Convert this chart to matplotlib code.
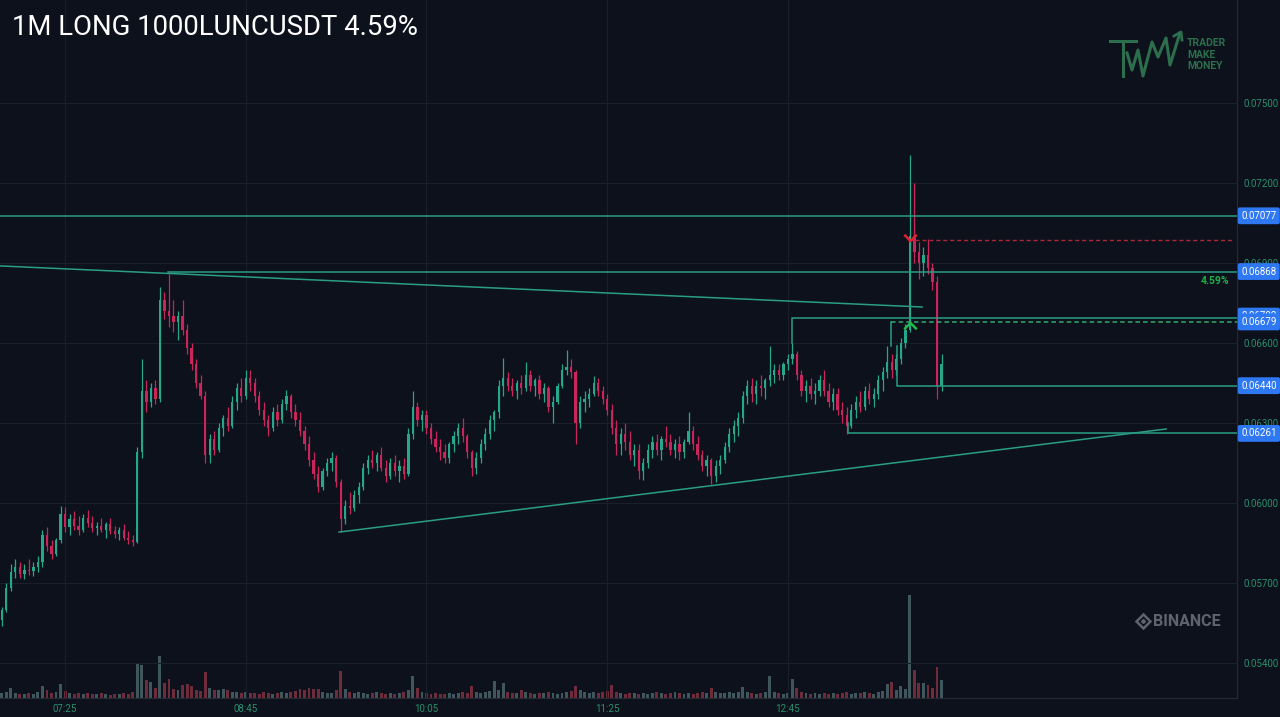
import numpy as np
import matplotlib.pyplot as plt
from matplotlib.path import Path
from matplotlib.transforms import blended_transform_factory

plt.rcParams['font.family'] = ['Roboto', 'DejaVu Sans']

# ---- data: 2-minute candles, prices in units of 0.00001 ----
opens = [5560, 5600, 5680, 5740, 5760, 5735, 5750, 5745, 5760, 5780,
         5880, 5840, 5810, 5860, 5960, 5910, 5940, 5915, 5900, 5945,
         5925, 5905, 5915, 5900, 5920, 5895, 5885, 5900, 5870, 5860,
         5855, 6190, 6420, 6380, 6430, 6390, 6760, 6720, 6700, 6680,
         6700, 6650, 6580, 6520, 6450, 6400, 6180, 6240, 6200, 6280,
         6320, 6290, 6380, 6430, 6400, 6470, 6450, 6400, 6350, 6310,
         6280, 6340, 6310, 6370, 6400, 6340, 6310, 6270, 6220, 6160,
         6110, 6060, 6120, 6150, 6170, 6080, 5940, 5990, 5980, 6030,
         6060, 6130, 6160, 6150, 6180, 6130, 6100, 6150, 6120, 6140,
         6110, 6260, 6360, 6310, 6330, 6280, 6240, 6210, 6190, 6170,
         6220, 6250, 6280, 6250, 6190, 6130, 6170, 6220, 6260, 6310,
         6340, 6440, 6470, 6440, 6420, 6450, 6430, 6480, 6440, 6460,
         6410, 6430, 6360, 6380, 6440, 6500, 6510, 6490, 6300, 6380,
         6390, 6410, 6450, 6420, 6390, 6350, 6280, 6220, 6260, 6230,
         6180, 6200, 6120, 6150, 6200, 6230, 6200, 6240, 6230, 6200,
         6220, 6190, 6230, 6270, 6220, 6180, 6140, 6160, 6100, 6140,
         6160, 6210, 6260, 6290, 6320, 6400, 6440, 6410, 6440, 6430,
         6460, 6480, 6500, 6480, 6520, 6540, 6560, 6480, 6420, 6440,
         6410, 6420, 6460, 6420, 6380, 6410, 6350, 6330, 6290, 6350,
         6380, 6360, 6420, 6390, 6410, 6460, 6490, 6530, 6500, 6540,
         6600, 6650, 7000, 6940, 6900, 6930, 6880, 6830, 6440]
highs = [5610, 5700, 5770, 5790, 5780, 5770, 5790, 5780, 5800, 5900,
         5910, 5860, 5870, 5990, 5985, 5960, 5970, 5950, 5960, 5975,
         5950, 5930, 5945, 5930, 5945, 5915, 5910, 5920, 5895, 5880,
         6210, 6540, 6460, 6450, 6460, 6810, 6790, 6860, 6760, 6720,
         6760, 6670, 6600, 6540, 6480, 6420, 6260, 6270, 6300, 6330,
         6360, 6400, 6450, 6470, 6500, 6500, 6470, 6420, 6380, 6330,
         6360, 6370, 6390, 6425, 6410, 6370, 6340, 6290, 6250, 6190,
         6140, 6130, 6170, 6190, 6180, 6090, 6010, 6040, 6050, 6080,
         6150, 6180, 6200, 6190, 6210, 6160, 6170, 6180, 6160, 6170,
         6280, 6420, 6380, 6350, 6350, 6300, 6270, 6240, 6220, 6230,
         6270, 6300, 6320, 6260, 6200, 6190, 6240, 6280, 6330, 6350,
         6460, 6545, 6490, 6470, 6460, 6480, 6530, 6500, 6470, 6480,
         6450, 6440, 6400, 6450, 6520, 6575, 6540, 6500, 6400, 6420,
         6430, 6475, 6470, 6440, 6410, 6370, 6310, 6280, 6300, 6270,
         6220, 6220, 6170, 6220, 6250, 6260, 6250, 6290, 6260, 6240,
         6250, 6240, 6340, 6290, 6250, 6200, 6180, 6170, 6160, 6180,
         6230, 6280, 6310, 6340, 6420, 6460, 6470, 6460, 6480, 6470,
         6590, 6520, 6520, 6530, 6560, 6600, 6570, 6500, 6460, 6470,
         6450, 6480, 6500, 6450, 6430, 6430, 6380, 6360, 6370, 6400,
         6420, 6440, 6450, 6430, 6480, 6510, 6590, 6560, 6560, 6620,
         6670, 7305, 7200, 6980, 6960, 6990, 6900, 6850, 6560]
lows = [5540, 5590, 5670, 5720, 5720, 5715, 5730, 5725, 5740, 5760,
        5820, 5790, 5800, 5850, 5890, 5880, 5900, 5880, 5890, 5910,
        5890, 5880, 5890, 5870, 5885, 5870, 5860, 5860, 5845, 5840,
        5850, 6170, 6340, 6360, 6370, 6380, 6690, 6660, 6640, 6610,
        6630, 6560, 6500, 6430, 6390, 6150, 6150, 6180, 6190, 6250,
        6270, 6280, 6350, 6380, 6390, 6420, 6380, 6330, 6290, 6250,
        6270, 6290, 6300, 6350, 6320, 6290, 6250, 6200, 6140, 6090,
        6040, 6050, 6100, 6120, 6060, 5890, 5920, 5960, 5970, 6000,
        6050, 6110, 6130, 6120, 6120, 6080, 6090, 6100, 6080, 6090,
        6100, 6240, 6290, 6270, 6260, 6220, 6190, 6160, 6150, 6150,
        6190, 6220, 6230, 6170, 6100, 6110, 6150, 6200, 6240, 6270,
        6320, 6400, 6420, 6400, 6390, 6410, 6420, 6420, 6400, 6390,
        6380, 6340, 6300, 6370, 6430, 6480, 6470, 6220, 6280, 6340,
        6360, 6400, 6400, 6370, 6330, 6260, 6180, 6180, 6200, 6160,
        6140, 6090, 6085, 6130, 6170, 6180, 6160, 6210, 6180, 6170,
        6160, 6170, 6220, 6200, 6160, 6120, 6100, 6070, 6080, 6110,
        6150, 6190, 6230, 6250, 6300, 6370, 6380, 6370, 6400, 6390,
        6440, 6450, 6460, 6460, 6500, 6520, 6460, 6400, 6380, 6390,
        6370, 6400, 6400, 6360, 6350, 6330, 6300, 6260, 6280, 6320,
        6340, 6350, 6370, 6360, 6390, 6420, 6470, 6470, 6480, 6520,
        6580, 6640, 6900, 6840, 6850, 6860, 6800, 6390, 6420]
closes = [5600, 5680, 5740, 5760, 5735, 5750, 5745, 5760, 5780, 5880,
          5840, 5810, 5860, 5960, 5910, 5940, 5915, 5900, 5945, 5925,
          5905, 5915, 5900, 5920, 5895, 5885, 5900, 5870, 5860, 5855,
          6190, 6420, 6380, 6430, 6390, 6760, 6720, 6700, 6680, 6700,
          6650, 6580, 6520, 6450, 6400, 6180, 6240, 6200, 6280, 6320,
          6290, 6380, 6430, 6400, 6470, 6450, 6400, 6350, 6310, 6280,
          6340, 6310, 6370, 6400, 6340, 6310, 6270, 6220, 6160, 6110,
          6060, 6120, 6150, 6170, 6080, 5940, 5990, 5980, 6030, 6060,
          6130, 6160, 6150, 6180, 6130, 6100, 6150, 6120, 6140, 6110,
          6260, 6360, 6310, 6330, 6280, 6240, 6210, 6190, 6170, 6220,
          6250, 6280, 6250, 6190, 6130, 6170, 6220, 6260, 6310, 6340,
          6440, 6470, 6440, 6420, 6450, 6430, 6480, 6440, 6460, 6410,
          6430, 6360, 6380, 6440, 6500, 6510, 6490, 6300, 6380, 6390,
          6410, 6450, 6420, 6390, 6350, 6280, 6220, 6260, 6230, 6180,
          6200, 6120, 6150, 6200, 6230, 6200, 6240, 6230, 6200, 6220,
          6190, 6230, 6270, 6220, 6180, 6140, 6160, 6100, 6140, 6160,
          6210, 6260, 6290, 6320, 6400, 6440, 6410, 6440, 6430, 6460,
          6480, 6500, 6480, 6520, 6540, 6560, 6480, 6420, 6440, 6410,
          6420, 6460, 6420, 6380, 6410, 6350, 6330, 6290, 6350, 6380,
          6360, 6420, 6390, 6410, 6460, 6490, 6530, 6500, 6540, 6600,
          6650, 7000, 6940, 6900, 6930, 6880, 6830, 6440, 6520]
volumes = [5, 6, 10, 5, 4, 4, 5, 4, 6, 12,
           8, 5, 6, 14, 7, 5, 4, 5, 4, 5,
           4, 4, 5, 4, 3, 4, 4, 5, 4, 6,
           35, 33, 18, 16, 10, 42, 15, 19, 9, 8,
           13, 14, 12, 8, 7, 26, 10, 8, 8, 9,
           8, 6, 6, 5, 6, 5, 5, 4, 6, 5,
           4, 5, 6, 5, 6, 7, 9, 8, 10, 9,
           9, 6, 5, 5, 8, 27, 9, 6, 5, 6,
           5, 4, 5, 6, 5, 4, 5, 4, 5, 6,
           8, 22, 10, 6, 5, 4, 5, 4, 4, 5,
           4, 5, 6, 5, 12, 6, 5, 6, 7, 17,
           8, 15, 6, 5, 5, 8, 6, 5, 4, 5,
           5, 6, 5, 4, 5, 6, 7, 12, 8, 6,
           5, 6, 5, 6, 7, 13, 6, 5, 4, 5,
           5, 4, 5, 4, 5, 6, 5, 4, 5, 6,
           5, 4, 5, 4, 5, 6, 5, 10, 6, 5,
           5, 6, 5, 6, 11, 6, 5, 4, 5, 6,
           22, 6, 5, 4, 5, 19, 10, 6, 5, 4,
           5, 4, 5, 4, 5, 4, 5, 6, 4, 5,
           5, 6, 5, 4, 6, 7, 14, 16, 8, 12,
           9, 104, 28, 15, 15, 13, 10, 31, 18]

first_bar_min = 417          # minutes after midnight (06:57)
bar_minutes = 2

time_ticks = [445, 525, 605, 685, 765]
time_labels = ['07:25', '08:45', '10:05', '11:25', '12:45']
price_ticks = [0.054, 0.057, 0.060, 0.063, 0.066, 0.069, 0.072, 0.075]

# price levels shown as boxes on the price scale
level_prices = [0.07077, 0.06868, 0.06679, 0.06440, 0.06261]
level_labels = ['0.07077', '0.06868', '0.06679', '0.06440', '0.06261']
hidden_price = 0.06701       # label pushed up, mostly covered by 0.06679
stop_price = 0.06986

# ---- colours ----
BG = '#0c111b'
GRID = '#1a1f2a'
UP = '#26a68a'
DOWN = '#c8265a'
LINE = '#2a9d86'
TXT = '#2a8f6e'
BOX = '#2f78f4'

o = np.array(opens) / 1e5
h = np.array(highs) / 1e5
l = np.array(lows) / 1e5
c = np.array(closes) / 1e5
vol = np.array(volumes, dtype=float)
t = first_bar_min + bar_minutes * np.arange(len(o))
up = c >= o
col = np.where(up, UP, DOWN)
vcol = np.where(up, '#3f565d', '#6e2c3a')

x0, x1 = 416.2, 963.8
y0, y1 = 0.0526875, 0.0788625

fig = plt.figure(figsize=(12.8, 7.17), dpi=100, facecolor=BG)
ax = fig.add_axes([0, 19 / 717, 1237 / 1280, 698 / 717])
axv = ax.twinx()
ax.set_zorder(axv.get_zorder() + 1)
ax.patch.set_visible(False)

# volume
axv.bar(t, vol, width=1.3, color=vcol, linewidth=0)
axv.set_ylim(0, vol.max() * 698 / 103)
axv.set_yticks([])
for s in axv.spines.values():
    s.set_visible(False)

# candles
ax.vlines(t, l, h, colors=col, linewidth=0.9, zorder=3)
body = np.maximum(np.abs(c - o), 0.000012)
ax.bar(t, body, bottom=np.minimum(o, c), width=1.0, color=col, linewidth=0, zorder=3)

ax.set_xlim(x0, x1)
ax.set_ylim(y0, y1)
ax.set_xticks(time_ticks, time_labels)
ax.yaxis.tick_right()
ax.set_yticks(price_ticks, [f'{p:.5f}' for p in price_ticks])
ax.tick_params(axis='both', length=0, colors=TXT, labelsize=7)
ax.tick_params(axis='y', pad=5)
ax.tick_params(axis='x', pad=4)
ax.grid(True, color=GRID, linewidth=0.8)
ax.set_axisbelow(True)
for side in ['top', 'left']:
    ax.spines[side].set_visible(False)
for side in ['right', 'bottom']:
    ax.spines[side].set_color('#252a35')

# drawings
lw = 1.1
ax.plot([x0, 824.4], [0.06889, 0.06735], color=LINE, lw=lw, zorder=4)
ax.plot([566.3, 932.4], [0.05891, 0.062775], color=LINE, lw=lw, zorder=4)
ax.plot([x0, x1], [0.07077, 0.07077], color=LINE, lw=lw, zorder=4)
ax.plot([490.6, x1], [0.06868, 0.06868], color=LINE, lw=lw, zorder=4)
ax.plot([766.8, 766.8, x1], [0.06600, 0.06692, 0.06692], color=LINE, lw=lw, zorder=4)
ax.plot([810.6, 810.6], [0.06590, 0.06679], color=LINE, lw=lw, zorder=4)
ax.plot([810.6, x1], [0.06679, 0.06679], color='#34a86e', lw=lw, ls=(0, (3, 2)), zorder=4)
ax.plot([813.3, 813.3, x1], [0.06590, 0.06440, 0.06440], color=LINE, lw=lw, zorder=4)
ax.plot([791.6, 791.6, x1], [0.06300, 0.06261, 0.06261], color=LINE, lw=lw, zorder=4)
ax.plot([818.2, 961.6], [stop_price, stop_price], color='#a8283a', lw=1.0, ls=(0, (3, 2)), zorder=4)

# entry / exit chevrons
v_mark = Path([(-1, 0.6), (0, -0.4), (1, 0.6)], [Path.MOVETO, Path.LINETO, Path.LINETO])
a_mark = Path([(-1, -0.6), (0, 0.4), (1, -0.6)], [Path.MOVETO, Path.LINETO, Path.LINETO])
ax.plot([t[201]], [0.06992], marker=v_mark, ms=9, mfc='none', mec='#e3202e', mew=1.8, ls='none', zorder=6)
ax.plot([t[201]], [0.06666], marker=a_mark, ms=9, mfc='none', mec='#1fbf4a', mew=1.8, ls='none', zorder=6)

# price-scale boxes
trans = blended_transform_factory(ax.transAxes, ax.transData)
box = dict(boxstyle='round,pad=0.35,rounding_size=0.2', fc=BOX, ec='none')
ax.annotate('0.06702', xy=(1.0, hidden_price), xycoords=trans, xytext=(3, 0), textcoords='offset points',
            ha='left', va='center', fontsize=7, color='white', bbox=box, annotation_clip=False, zorder=7)
for p, s in zip(level_prices, level_labels):
    ax.annotate(s, xy=(1.0, p), xycoords=trans, xytext=(3, 0), textcoords='offset points',
                ha='left', va='center', fontsize=7, color='white', bbox=box,
                annotation_clip=False, zorder=8)
ax.text(1215 / 1237, 0.068325, '4.59%', transform=trans, ha='center', va='center',
        color='#1fae4a', fontsize=7.5, fontweight='bold', zorder=8)

# overlay for title and watermarks (pixel coordinates)
ov = fig.add_axes([0, 0, 1, 1], zorder=10)
ov.set_xlim(0, 1280)
ov.set_ylim(717, 0)
ov.axis('off')
fig.text(12 / 1280, 1 - 27.5 / 717, '1M LONG 1000LUNCUSDT 4.59%', color='white',
         fontsize=19.8, va='center', ha='left')

logo = '#2d6e4c'
ov.plot([1110, 1136], [41, 41], color=logo, lw=2.2)
ov.plot([1123, 1123], [41, 76], color=logo, lw=2.2)
ov.plot([1127, 1132, 1138, 1143, 1152, 1158, 1166, 1170, 1180],
        [53, 70, 50, 76, 42, 57, 38, 65, 33], color=logo, lw=2.2)
ov.plot([1174, 1181, 1182], [36, 32, 40], color=logo, lw=2.0)
for yy, word in zip([43, 55, 66], ['TRADER', 'MAKE', 'MONEY']):
    ov.text(1187, yy, word, color=logo, fontsize=7.5, fontweight='bold', va='center', ha='left')

gray = '#5f636d'
ov.plot([1143], [621], marker='D', ms=7.5, mfc='none', mec=gray, mew=1.8)
ov.plot([1143], [621], marker='D', ms=2, color=gray)
ov.text(1153, 621, 'BINANCE', color=gray, fontsize=11.5,
        fontweight='bold', va='center', ha='left')

fig.savefig('out.png', dpi=100, facecolor=BG)
